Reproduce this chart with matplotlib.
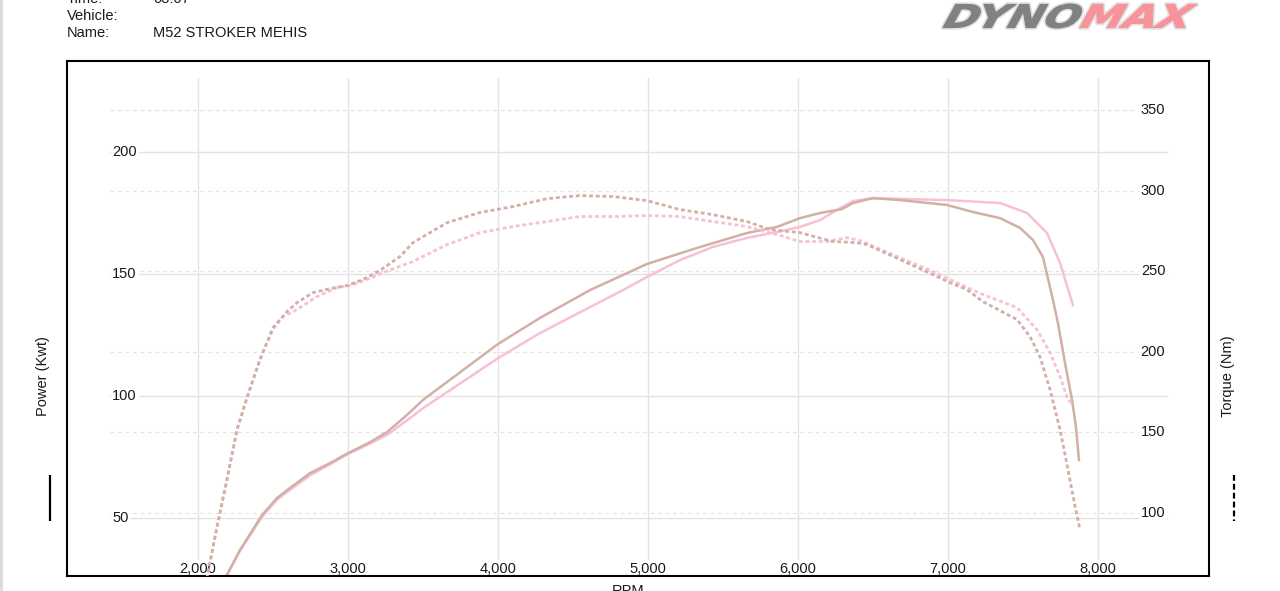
import matplotlib
matplotlib.use("Agg")
import matplotlib.pyplot as plt
from matplotlib.textpath import TextPath, text_to_path
from matplotlib.patches import PathPatch, Rectangle
from matplotlib.font_manager import FontProperties
from matplotlib.transforms import Affine2D

plt.rcParams['font.family'] = ['Liberation Sans', 'DejaVu Sans']

# ---------------- data ----------------
rpm_ticks = [2000, 3000, 4000, 5000, 6000, 7000, 8000]
rpm_tick_labels = ["2,000", "3,000", "4,000", "5,000", "6,000", "7,000", "8,000"]
power_ticks = [50, 100, 150, 200]
torque_ticks = [100, 150, 200, 250, 300, 350]

run1_power_rpm = [2170, 2280, 2427, 2527, 2613, 2747, 2880, 3000, 3147, 3260, 3393, 3500,
                  4000, 4280, 4613, 4993, 5327, 5660, 5860, 6013, 6147, 6293, 6367,
                  6500, 6680, 6993, 7167, 7347, 7480, 7567, 7633, 7700, 7733, 7780,
                  7827, 7853, 7873]
run1_power = [24.0, 36.9, 51.2, 58.2, 62.3, 68.4, 72.5, 76.6, 81.1, 85.2, 92.2, 98.4,
              121.3, 132.0, 143.4, 154.1, 160.7, 166.8, 169.3, 172.9, 175.0, 176.6, 179.1,
              181.1, 180.3, 178.3, 175.4, 172.9, 168.9, 163.9, 157.0, 139.3, 129.9, 113.5,
              98.4, 87.3, 73.8]

run2_power_rpm = [2170, 2280, 2427, 2527, 2613, 2747, 2880, 3000, 3147, 3260, 3393, 3500,
                  4000, 4280, 4600, 4833, 4993, 5213, 5433, 5660, 5860, 6013, 6147,
                  6280, 6367, 6500, 6993, 7347, 7527, 7660, 7747, 7833]
run2_power = [24.0, 36.5, 50.5, 57.5, 61.5, 67.5, 72.0, 76.2, 80.5, 84.0, 90.0, 95.0,
              115.5, 125.8, 136.0, 143.4, 148.8, 155.7, 161.1, 164.8, 167.2, 169.3, 172.1,
              177.0, 179.9, 181.1, 180.3, 179.1, 175.0, 166.8, 154.5, 137.3]

run1_torque_rpm = [2050, 2127, 2193, 2260, 2327, 2413, 2500, 2593, 2660, 2767, 2880, 2993,
                   3100, 3213, 3347, 3433, 3660, 3880, 4100, 4327, 4547, 4767, 4993, 5213,
                   5433, 5660, 5813, 6013, 6233, 6393, 6460, 6680, 6900, 7013, 7127, 7233,
                   7460, 7547, 7613, 7680, 7747, 7800, 7847, 7880]
run1_torque = [55.0, 91.6, 120.7, 151.7, 171.6, 195.2, 215.0, 224.9, 230.5, 236.7, 239.2, 241.1,
               244.8, 250.5, 259.1, 267.7, 280.1, 286.4, 290.1, 295.0, 296.9, 296.3, 293.8, 288.2,
               285.1, 280.8, 275.8, 273.9, 268.4, 267.7, 266.5, 257.2, 247.9, 242.9, 238.6, 231.1,
               220.0, 209.4, 197.0, 176.6, 151.7, 126.9, 104.0, 89.7]

run2_torque_rpm = [2050, 2127, 2193, 2260, 2327, 2413, 2500, 2567, 2660, 2793, 2927, 3013,
                   3127, 3233, 3433, 3660, 3880, 4100, 4327, 4547, 4767, 4993, 5213, 5433,
                   5660, 5860, 6013, 6193, 6327, 6413, 6680, 6900, 7013, 7233, 7347, 7460,
                   7593, 7680, 7747, 7800, 7833]
run2_torque = [55.0, 91.6, 120.7, 151.7, 171.6, 195.2, 214.0, 221.8, 226.2, 234.2, 239.8, 241.1,
               244.8, 249.1, 256.0, 266.5, 273.9, 277.7, 280.8, 283.9, 283.9, 284.5, 283.9, 280.8,
               277.7, 272.7, 268.4, 268.4, 270.8, 269.0, 258.4, 249.8, 244.8, 235.5, 231.5, 227.4,
               213.8, 199.5, 184.6, 170.3, 167.2]

header_labels = ["Time:", "Vehicle:", "Name:"]
header_values = ["03:07", "", "M52 STROKER MEHIS"]

# ---------------- styles ----------------
W, H = 1280, 591
BROWN = '#d3b0a6'
PINK = '#f8c0d5'
GRID = '#e3e3e3'
TXT = '#1a1a1a'
FS = 10.5

fig = plt.figure(figsize=(W / 100, H / 100), dpi=100)
fig.patch.set_facecolor('white')

# overlay axes in pixel coordinates (for header, logo, legend marks)
ov = fig.add_axes([0, 0, 1, 1], zorder=-1)
ov.set_xlim(0, W)
ov.set_ylim(H, 0)
ov.axis('off')

# frame / data axes
L, R, T, B = 67, 1209, 61, 576
ax = fig.add_axes([L / W, 1 - B / H, (R - L) / W, (B - T) / H], zorder=1)
ax.patch.set_alpha(0)
ax.set_xlim(1126.7, 8740)
ax.set_ylim(26.23, 237.3)
ax2 = ax.twinx()
ax2.set_ylim(60.9, 380.4)
for a in (ax, ax2):
    a.set_xticks([])
    a.set_yticks([])
    for s in a.spines.values():
        s.set_visible(False)
for s in ax.spines.values():
    s.set_visible(True)
    s.set_linewidth(1.5)
    s.set_color('black')

gx0, gx1 = (110 - L) / (R - L), (1167 - L) / (R - L)
gy0, gy1 = (B - 566) / (B - T), (B - 78) / (B - T)

for v in rpm_ticks:
    ax.axvline(v, ymin=gy0, ymax=gy1, color=GRID, lw=1.0, zorder=0.5)
for v in power_ticks:
    ax.axhline(v, xmin=gx0, xmax=gx1, color=GRID, lw=1.0, zorder=0.5)
for v in torque_ticks:
    ax.plot([gx0, gx1], [v, v], transform=ax2.get_yaxis_transform(), color=GRID,
            lw=0.9, ls=(0, (3, 3)), zorder=0.5)

bb = dict(boxstyle='square,pad=0.12', fc='white', ec='none')
for v in power_ticks:
    ax.text(gx0 + 0.002, v, f"{v}", transform=ax.get_yaxis_transform(), ha='left', va='center',
            fontsize=FS, color=TXT, bbox=bb, zorder=1)
for v in torque_ticks:
    ax.text(gx1 - 0.0015, v, f"{v}", transform=ax2.get_yaxis_transform(), ha='right',
            va='center', fontsize=FS, color=TXT, bbox=bb, zorder=1)
for v, lab in zip(rpm_ticks, rpm_tick_labels):
    ax.text(v, (B - 569) / (B - T), lab, transform=ax.get_xaxis_transform(), ha='center',
            va='center', fontsize=FS, color=TXT, bbox=bb, zorder=1)

dot = (0, (1.4, 1.0))
ax.plot(run2_power_rpm, run2_power, color=PINK, lw=1.8, zorder=2, solid_joinstyle='round')
ax.plot(run1_power_rpm, run1_power, color=BROWN, lw=1.8, zorder=2.1, solid_joinstyle='round')
ax2.plot(run2_torque_rpm, run2_torque, color=PINK, lw=2.0, ls=dot, zorder=2)
ax2.plot(run1_torque_rpm, run1_torque, color=BROWN, lw=2.0, ls=dot, zorder=2.1)

# axis titles
ov.text(43, 376, "Power (Kwt)", rotation=90, ha='center', va='center', fontsize=FS, color=TXT)
ov.text(1228, 376, "Torque (Nm)", rotation=90, ha='center', va='center', fontsize=FS, color=TXT)
ov.text(628, 584, "RPM", ha='center', va='top', fontsize=FS, color=TXT)

# legend marks
ov.plot([50, 50], [475, 521], color='black', lw=1.6, solid_capstyle='butt')
ov.plot([1234, 1234], [475, 521], color='black', lw=1.6, ls=(0, (2.6, 1.4)))

# header
ys = [-1, 16, 33]
for yy, lab, val in zip(ys, header_labels, header_values):
    ov.text(67, yy, lab, ha='left', va='center', fontsize=FS, color=TXT)
    ov.text(153, yy, val, ha='left', va='center', fontsize=FS, color=TXT)

# left edge bar
ov.add_patch(Rectangle((0, 0), 3, H, color='#dcdcdc', lw=0))

# logo (heavy slanted lettering)
fp = FontProperties(family='DejaVu Sans', weight='bold', size=100)
skew = Affine2D().skew_deg(22, 0)
p_all = skew.transform_path(TextPath((0, 0), "DYNOMAX", prop=fp))
ext = p_all.get_extents()
wd = text_to_path.get_text_width_height_descent("DYNO", fp, ismath=False)[0]
p_dyno = skew.transform_path(TextPath((0, 0), "DYNO", prop=fp))
p_max = skew.transform_path(TextPath((wd, 0), "MAX", prop=fp))
x0, x1, ytop, ybot = 943, 1197, 4, 28
sx = (x1 - x0) / ext.width
sy = (ybot - ytop) / ext.height
tr = Affine2D().translate(-ext.x0, -ext.y0).scale(sx, -sy).translate(x0, ybot)
pd = tr.transform_path(p_dyno)
pm = tr.transform_path(p_max)
# light outline behind
ov.add_patch(PathPatch(pd, fc='none', ec='#e2e2e2', lw=3.2, joinstyle='round'))
ov.add_patch(PathPatch(pm, fc='none', ec='#e2e2e2', lw=3.2, joinstyle='round'))
# fill, thickened
ov.add_patch(PathPatch(pd, fc='#818181', ec='#818181', lw=0.8, joinstyle='round'))
ov.add_patch(PathPatch(pm, fc='#f7939a', ec='#f7939a', lw=0.8, joinstyle='round'))

fig.savefig("out.png", dpi=100)
